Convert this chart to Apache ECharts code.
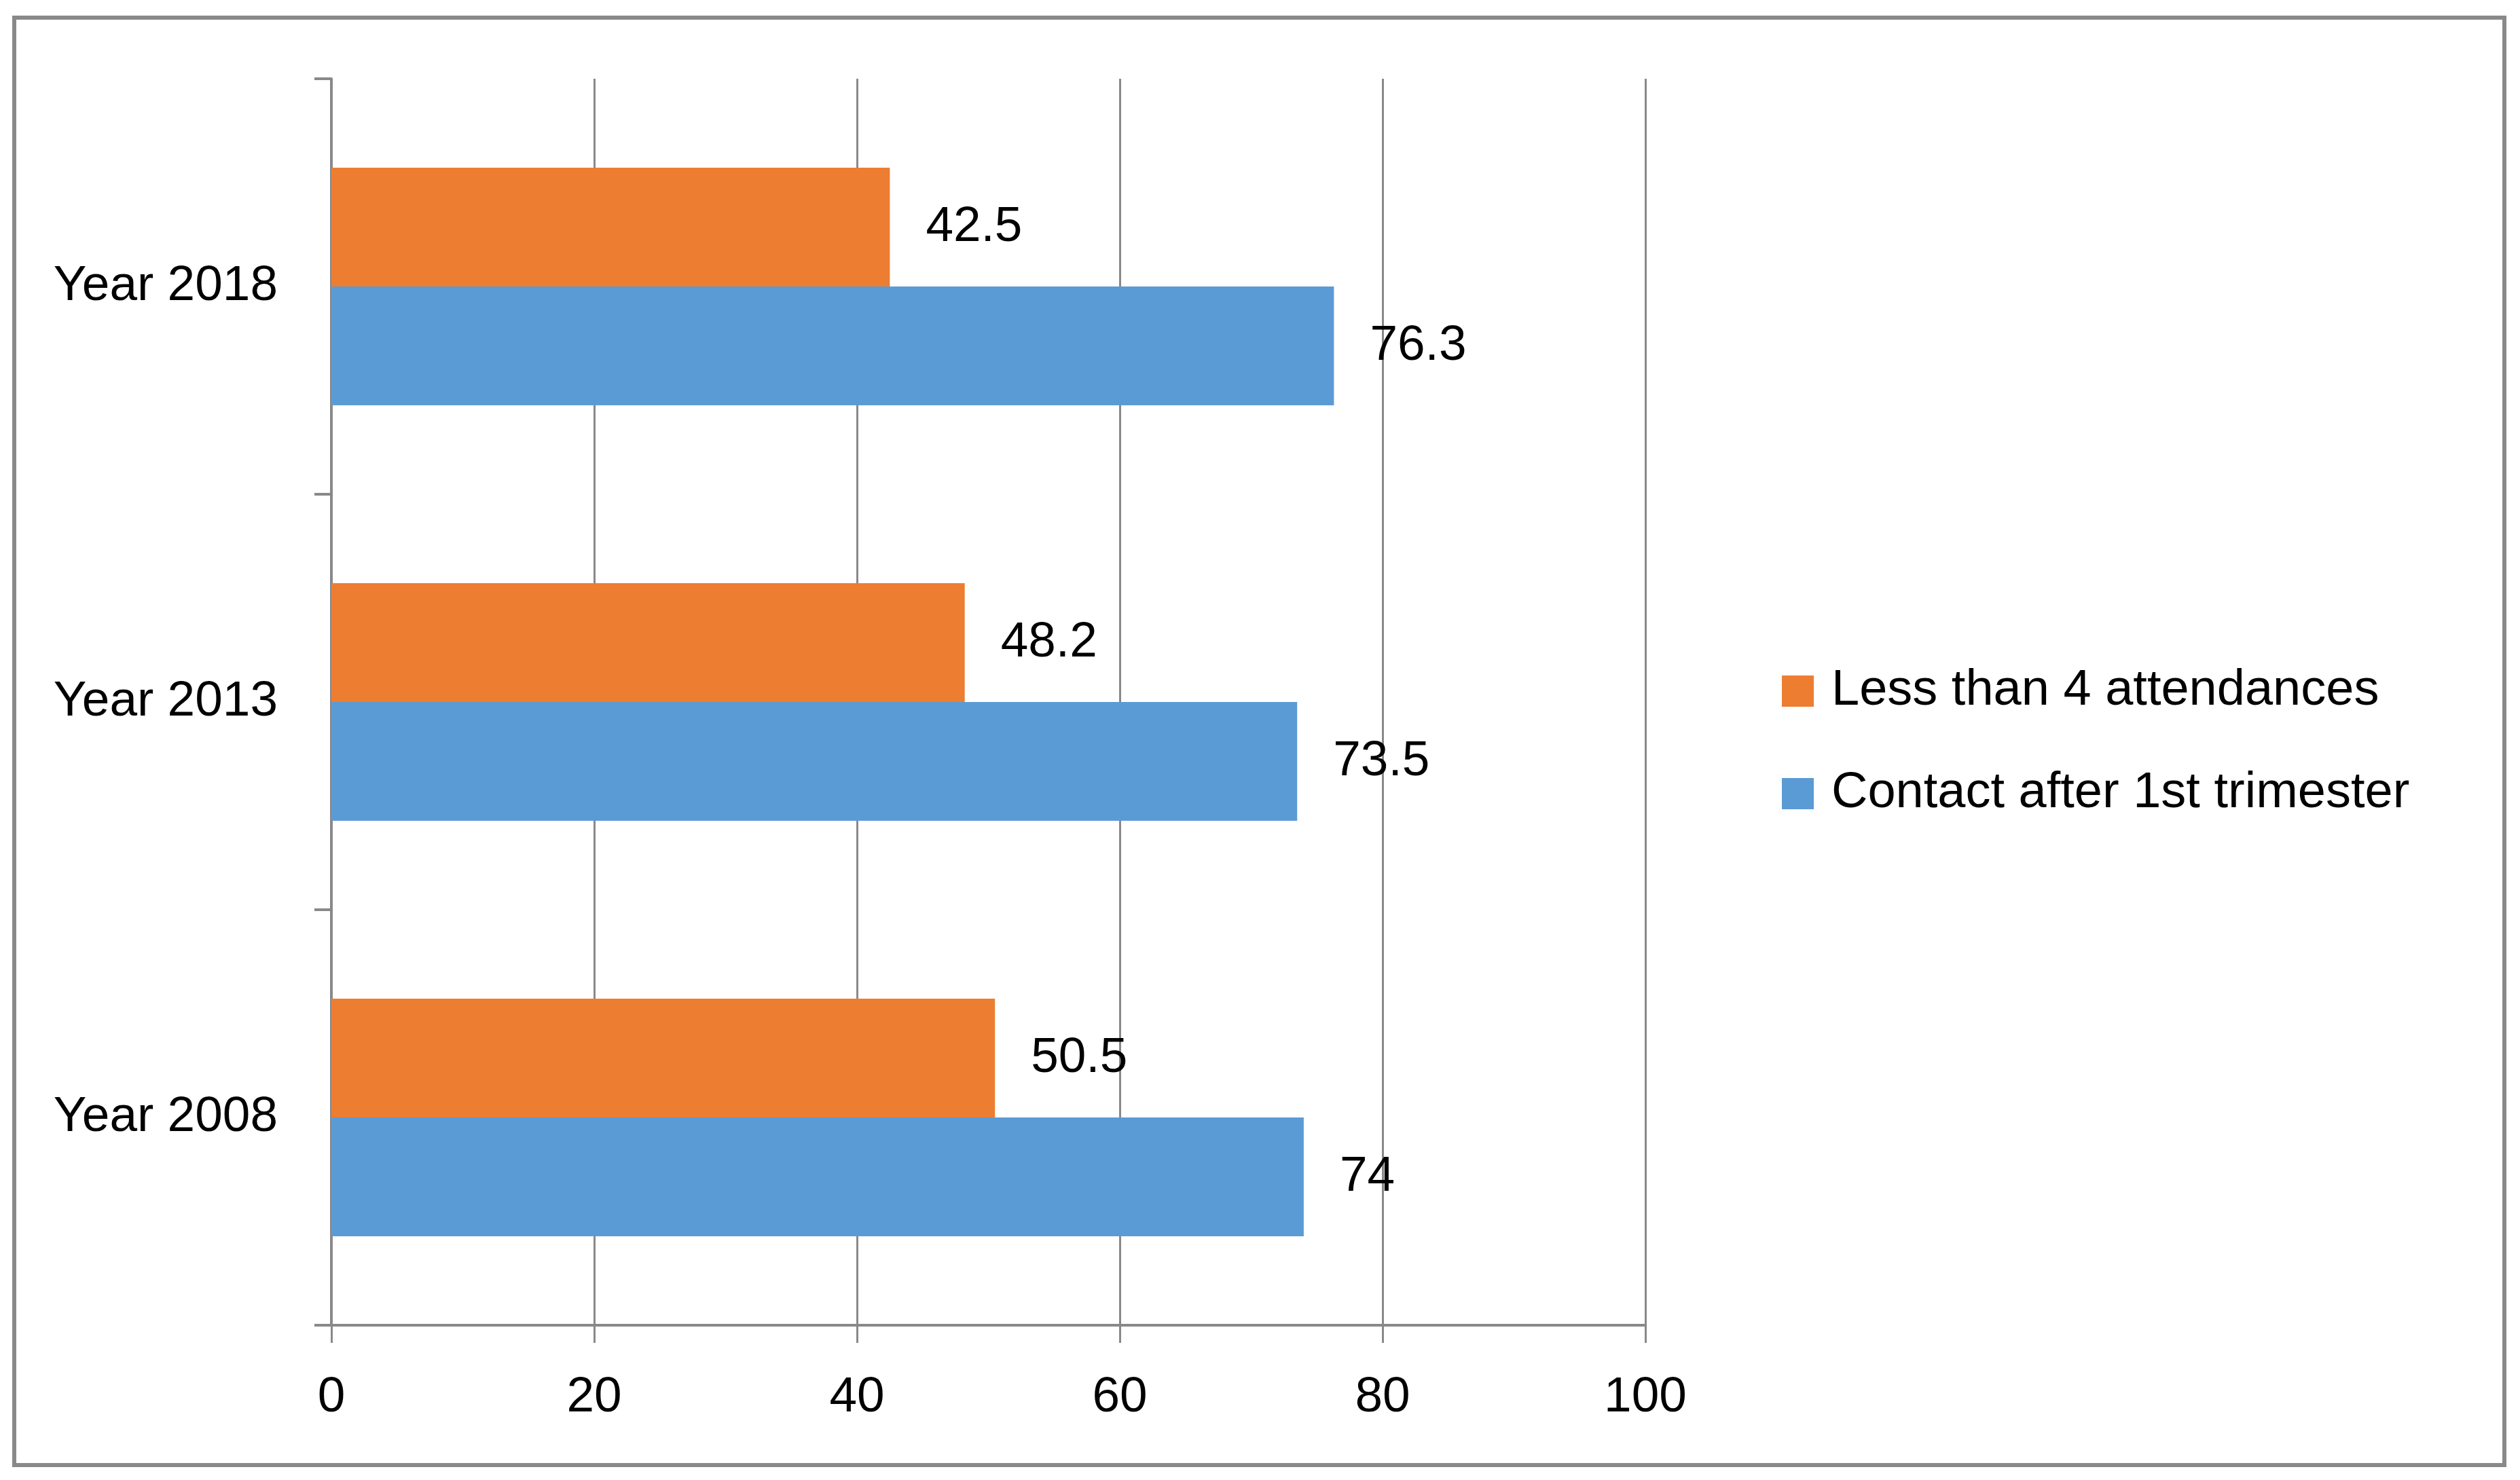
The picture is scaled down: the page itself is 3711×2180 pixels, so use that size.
<!DOCTYPE html>
<html>
<head>
<meta charset="utf-8">
<script src="https://cdn.jsdelivr.net/npm/echarts@6/dist/echarts.min.js"></script>
<style>
  html, body { margin: 0; padding: 0; background: #fff; }
  #chart { width: 3711px; height: 2180px; }
</style>
</head>
<body>
<div id="chart"></div>
<script>
// categories, bottom to top
var years = ['Year 2008', 'Year 2013', 'Year 2018'];
var lessThan4 = [50.5, 48.2, 42.5];
var afterFirstTri = [74, 73.5, 76.3];
var seriesNames = ['Less than 4 attendances', 'Contact after 1st trimester'];
var xTicks = [0, 100, 20]; // min, max, step

var gray = '#898989';
var font = 'Liberation Sans, Arial, sans-serif';

var chart = echarts.init(document.getElementById('chart'));
chart.setOption({
    animation: false,
    backgroundColor: '#fff',
    graphic: [{
        type: 'rect',
        shape: { x: 21, y: 26, width: 3667, height: 2132 },
        style: { fill: 'none', stroke: gray, lineWidth: 6 }
    }],
    grid: { left: 488, top: 116, right: 1288, bottom: 228 },
    legend: {
        orient: 'vertical',
        left: 2619,
        top: 973,
        itemWidth: 47,
        itemHeight: 46,
        itemGap: 71,
        icon: 'rect',
        data: seriesNames,
        textStyle: { fontFamily: font, fontSize: 74, color: '#000', lineHeight: 80, padding: [0, 0, 0, 21] }
    },
    xAxis: {
        type: 'value',
        min: xTicks[0],
        max: xTicks[1],
        interval: xTicks[2],
        axisLine: { show: true, lineStyle: { color: gray, width: 4 } },
        axisTick: { show: true, length: 26, lineStyle: { color: gray, width: 3 } },
        splitLine: { show: true, lineStyle: { color: gray, width: 3 } },
        axisLabel: { fontFamily: font, fontSize: 73, color: '#000', margin: 70 }
    },
    yAxis: {
        type: 'category',
        data: years,
        axisLine: { show: true, lineStyle: { color: gray, width: 4 } },
        axisTick: { show: true, length: 25, lineStyle: { color: gray, width: 4 } },
        axisLabel: { fontFamily: font, fontSize: 73, color: '#000', margin: 79 }
    },
    series: [{
        name: seriesNames[0],
        type: 'bar',
        data: lessThan4,
        barWidth: 175,
        barGap: '0%',
        itemStyle: { color: '#ED7D31' },
        label: { show: true, position: 'right', distance: 53, fontFamily: font, fontSize: 73, color: '#000' }
    }, {
        name: seriesNames[1],
        type: 'bar',
        data: afterFirstTri,
        barWidth: 175,
        barGap: '0%',
        itemStyle: { color: '#5B9BD5' },
        label: { show: true, position: 'right', distance: 53, fontFamily: font, fontSize: 73, color: '#000' }
    }]
});
</script>
</body>
</html>
